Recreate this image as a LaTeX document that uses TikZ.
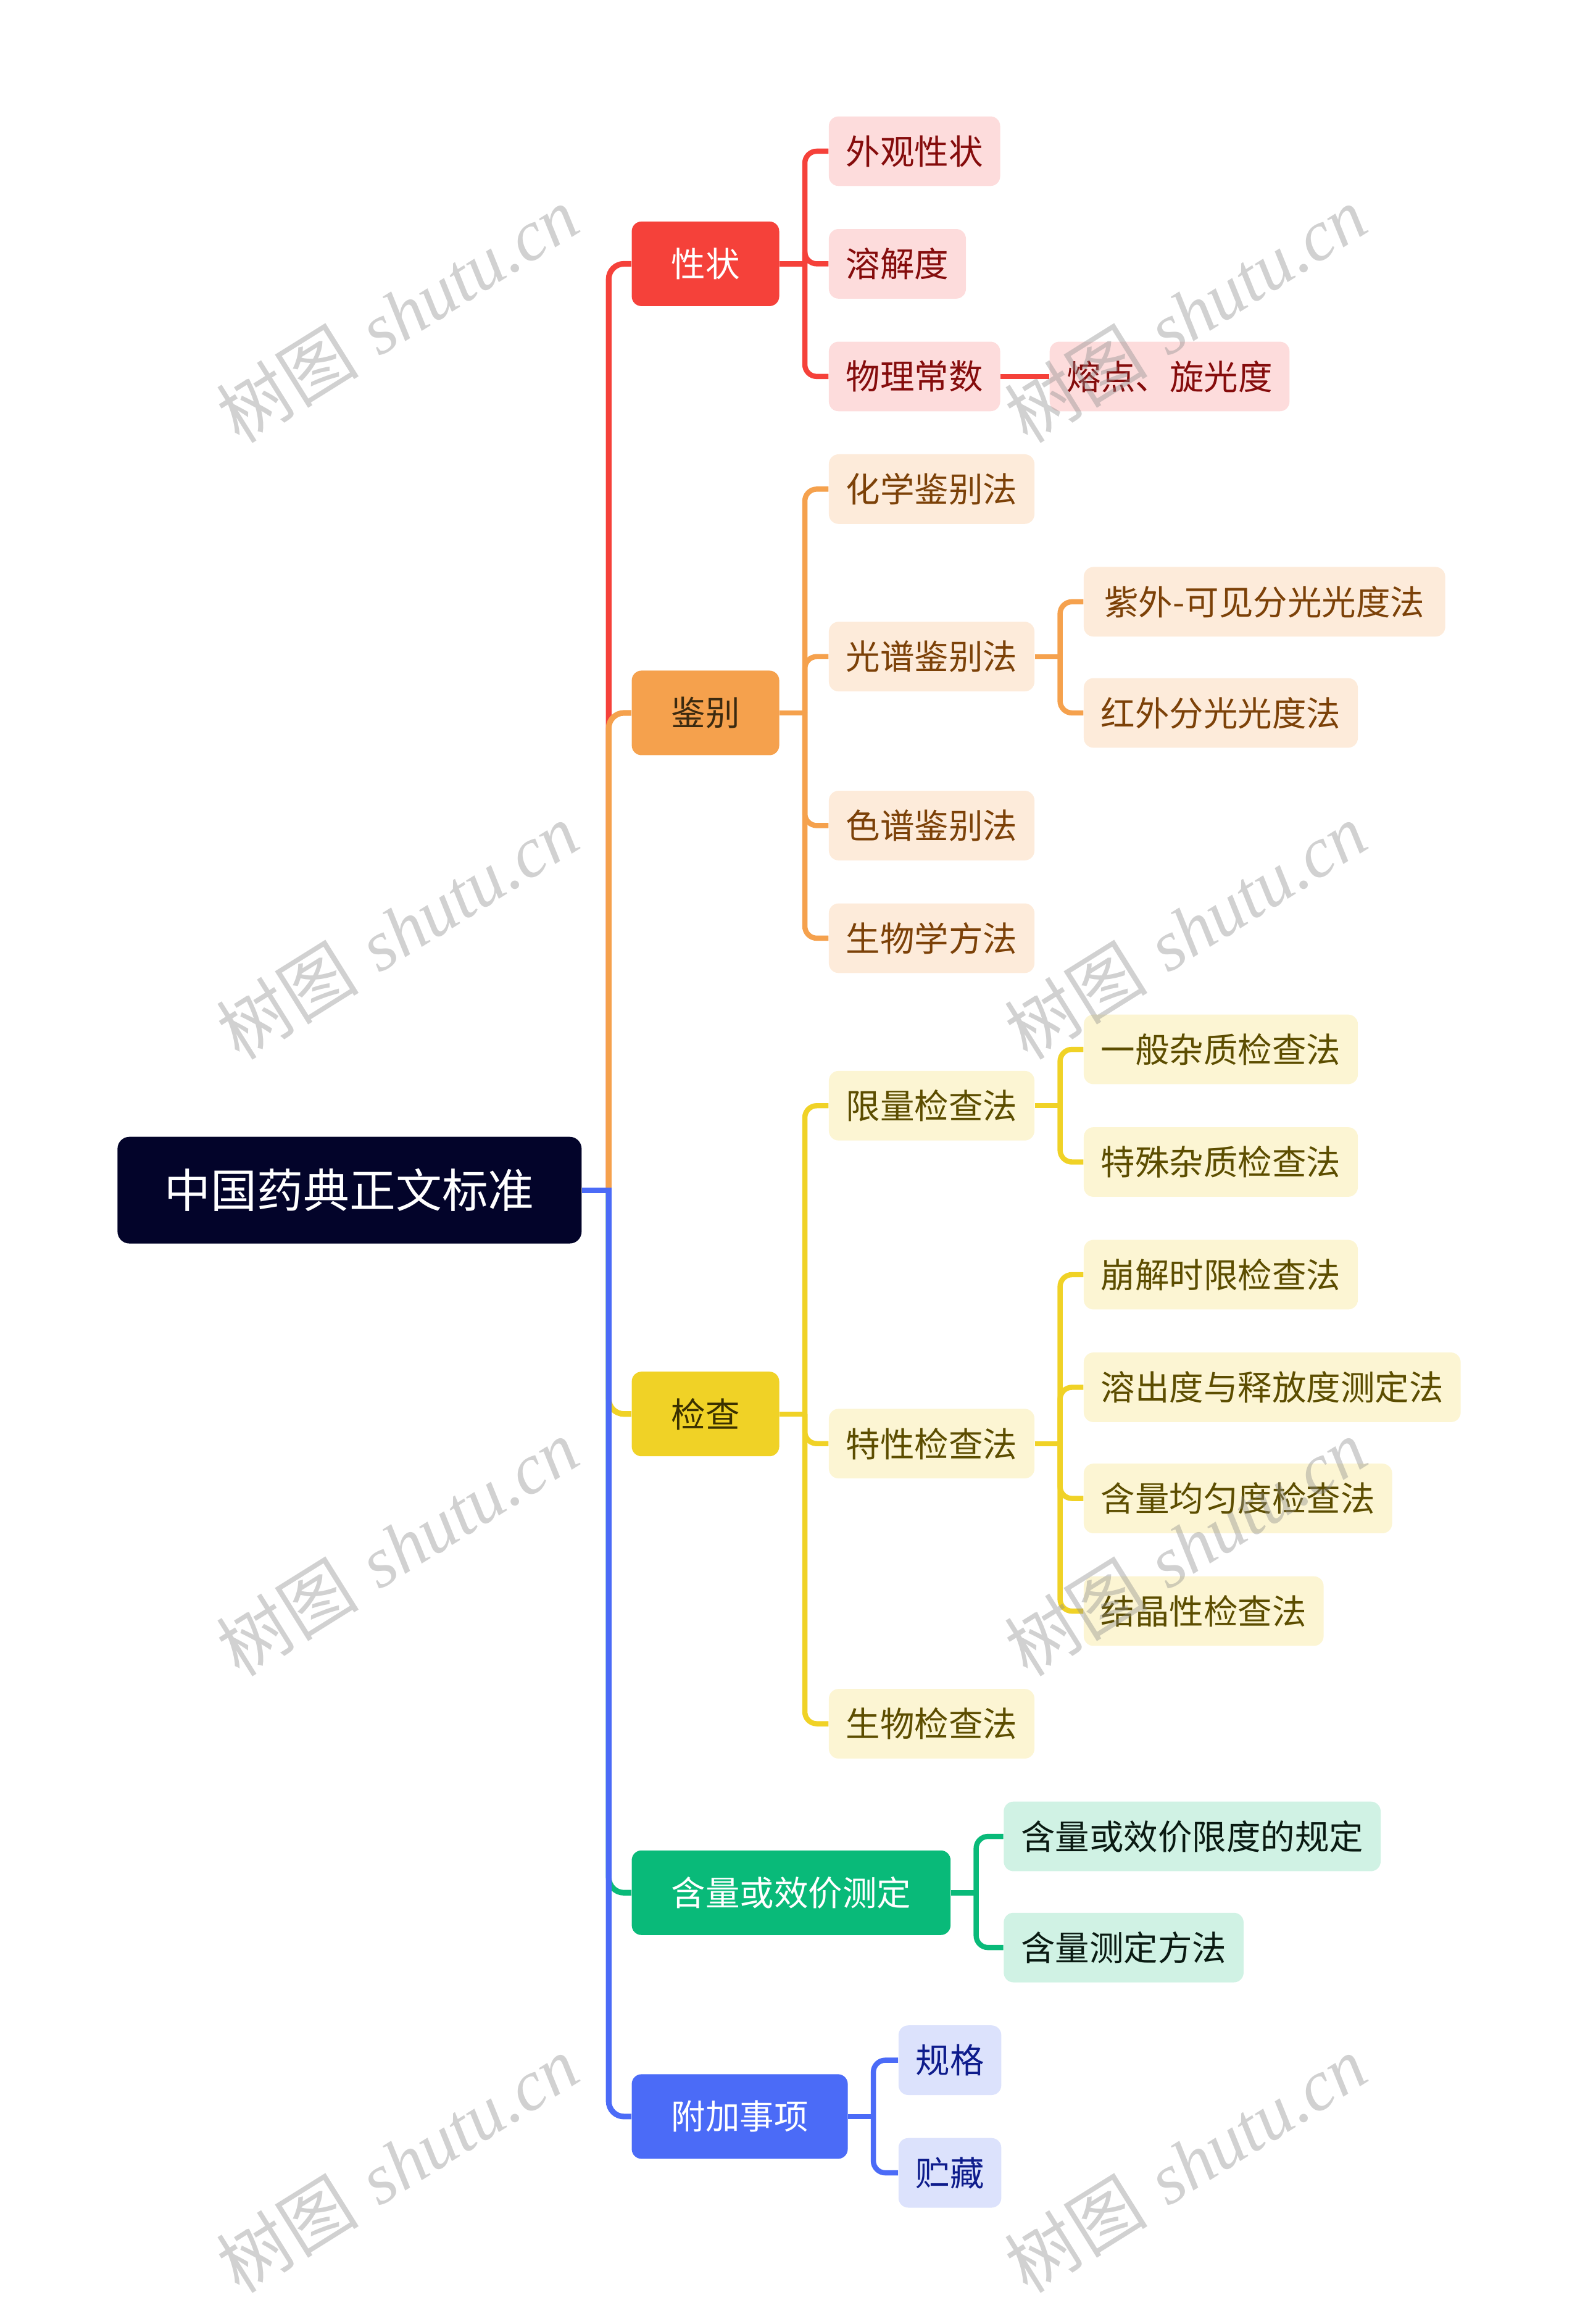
\documentclass[tikz,border=0pt]{standalone}
\usepackage{fontspec}
\newfontfamily\cjk{Noto Sans CJK SC}
\newfontfamily\wmlatin{Liberation Serif}
\usetikzlibrary{backgrounds,calc}
\definecolor{rootfill}{HTML}{03042A}
\definecolor{rA}{HTML}{F5413A}\definecolor{rAl}{HTML}{FDDCDC}\definecolor{rAt}{HTML}{850C0C}
\definecolor{oA}{HTML}{F5A14D}\definecolor{oAl}{HTML}{FDEBDA}\definecolor{oAt}{HTML}{7C4108}\definecolor{oAd}{HTML}{3B2A10}
\definecolor{yA}{HTML}{F0D226}\definecolor{yAl}{HTML}{FCF5D3}\definecolor{yAt}{HTML}{5C4D00}\definecolor{yAd}{HTML}{3A3000}
\definecolor{gA}{HTML}{09BA79}\definecolor{gAl}{HTML}{D0F2E4}\definecolor{gAt}{HTML}{0A1A12}
\definecolor{bA}{HTML}{4B6BF7}\definecolor{bAl}{HTML}{DCE2FC}\definecolor{bAt}{HTML}{0E1C8C}
\tikzset{
  rootbox/.style={fill=rootfill, text=white, rounded corners=5.5pt, inner xsep=21.8pt, inner ysep=0pt,
    minimum height=49.2pt, font=\cjk\fontsize{21.3}{24}\selectfont, anchor=west},
  topbox/.style={rounded corners=4.5pt, inner xsep=18.2pt, inner ysep=0pt, minimum height=39pt,
    font=\cjk\fontsize{15.8}{18}\selectfont, anchor=west},
  subbox/.style={rounded corners=4.5pt, inner xsep=7.9pt, inner ysep=0pt, minimum height=32.1pt,
    font=\cjk\fontsize{15.8}{18}\selectfont, anchor=west},
  rsub/.style={subbox, fill=rAl, text=rAt},
  osub/.style={subbox, fill=oAl, text=oAt},
  ysub/.style={subbox, fill=yAl, text=yAt},
  gsub/.style={subbox, fill=gAl, text=gAt},
  bsub/.style={subbox, fill=bAl, text=bAt},
  link/.style={line width=2.4pt},
  trunk/.style={line width=2.6pt},
  wm/.style={rotate=32, text=black!45, text opacity=0.4, font=\fontsize{33}{38}\selectfont},
}
\newcommand\mylink[3]{%
  \draw[link, #1] (#2.east) -- ++(18.8,0);
  \draw[link, #1, rounded corners=5.5pt] ($(#2.east)+(17,0)$) |- (#3.west);
}
\newcommand\mytrunk[2]{%
  \draw[trunk, #1, rounded corners=7pt] ($(root.east)+(18,0)$) |- (#2.west);
}
\begin{document}
\begin{tikzpicture}[x=0.024015cm, y=-0.024015cm]
\useasboundingbox (0,0) rectangle (1066,1568);
% root
\node[rootbox] (root) at (79,803) {中国药典正文标准};
% level 1
\node[topbox, fill=rA, text=white] (xz) at (426,178) {性状};
\node[topbox, fill=oA, text=oAd] (jb) at (426,481) {鉴别};
\node[topbox, fill=yA, text=yAd] (jc) at (426,954) {检查};
\node[topbox, fill=gA, text=white] (hl) at (426,1277) {含量或效价测定};
\node[topbox, fill=bA, text=white] (fj) at (426,1428) {附加事项};
% red
\node[rsub] (wg) at (559,102) {外观性状};
\node[rsub] (rjd) at (559,178) {溶解度};
\node[rsub] (wl) at (559,254) {物理常数};
\node[rsub] (rd) at (708,254) {熔点、旋光度};
% orange
\node[osub] (hx) at (559,330) {化学鉴别法};
\node[osub] (gp) at (559,443) {光谱鉴别法};
\node[osub] (sp) at (559,557) {色谱鉴别法};
\node[osub] (sw) at (559,633) {生物学方法};
\node[osub, inner xsep=9.5pt] (zw) at (731,406) {紫外-可见分光光度法};
\node[osub] (hw) at (731,481) {红外分光光度法};
% yellow
\node[ysub] (xl) at (559,746) {限量检查法};
\node[ysub] (tx) at (559,974) {特性检查法};
\node[ysub] (swj) at (559,1163) {生物检查法};
\node[ysub] (yb) at (731,708) {一般杂质检查法};
\node[ysub] (ts) at (731,784) {特殊杂质检查法};
\node[ysub] (bj) at (731,860) {崩解时限检查法};
\node[ysub] (rc) at (731,936) {溶出度与释放度测定法};
\node[ysub] (hly) at (731,1011) {含量均匀度检查法};
\node[ysub] (jj) at (731,1087) {结晶性检查法};
% green
\node[gsub] (gd) at (677,1239) {含量或效价限度的规定};
\node[gsub] (cf) at (677,1314) {含量测定方法};
% blue
\node[bsub] (gg) at (606,1390) {规格};
\node[bsub] (zc) at (606,1466) {贮藏};
\begin{scope}[on background layer]
  \mytrunk{rA}{xz}
  \mytrunk{oA}{jb}
  \mytrunk{yA}{jc}
  \mytrunk{gA}{hl}
  \mytrunk{bA}{fj}
  \draw[trunk, bA] (root.east) -- ++(19.8,0);
  \mylink{rA}{xz}{wg}
  \mylink{rA}{xz}{rjd}
  \mylink{rA}{xz}{wl}
  \draw[link, rA] (wl.east) -- (rd.west);
  \mylink{oA}{jb}{hx}
  \mylink{oA}{jb}{gp}
  \mylink{oA}{jb}{sp}
  \mylink{oA}{jb}{sw}
  \mylink{oA}{gp}{zw}
  \mylink{oA}{gp}{hw}
  \mylink{yA}{jc}{xl}
  \mylink{yA}{jc}{tx}
  \mylink{yA}{jc}{swj}
  \mylink{yA}{xl}{yb}
  \mylink{yA}{xl}{ts}
  \mylink{yA}{tx}{bj}
  \mylink{yA}{tx}{rc}
  \mylink{yA}{tx}{hly}
  \mylink{yA}{tx}{jj}
  \mylink{gA}{hl}{gd}
  \mylink{gA}{hl}{cf}
  \mylink{bA}{fj}{gg}
  \mylink{bA}{fj}{zc}
\end{scope}
% watermarks
\foreach \wx/\wy [count=\i] in {268/212, 800/212, 268/628, 800/628, 268/1044, 800/1044, 268/1460, 800/1460}{
  \node[wm] (wm\i) at (\wx,\wy) {{\cjk 树图} {\wmlatin\itshape shutu.cn}};
}
\end{tikzpicture}
\end{document}
